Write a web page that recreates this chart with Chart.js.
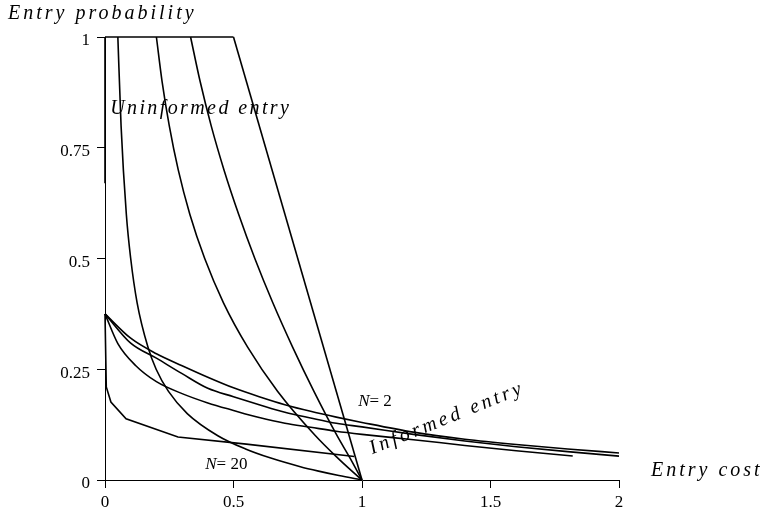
<!DOCTYPE html>
<html>
<head>
<meta charset="utf-8">
<script src="https://cdn.jsdelivr.net/npm/chart.js@4"></script>
<style>
  body { margin: 0; background: #fff; }
  #wrap { width: 767px; height: 515px; }
</style>
</head>
<body>
<div id="wrap"><canvas id="entry-chart" width="767" height="515"></canvas></div>
<script>
// tick labels
const xTicks = [0, 0.5, 1, 1.5, 2];
const yTicks = [0, 0.25, 0.5, 0.75, 1];

// uninformed entry: flat at 1, then falling to 0 at cost 1
const topCost = [0, 0.5];
const topProb = [1, 1];
const uInfCost = [0, 0];
const uInfProb = [1, 0.67];
const u20Cost = [0.05, 0.0625, 0.083, 0.1, 0.125, 0.167, 0.199, 0.247, 0.32, 0.439, 0.547, 0.642, 0.76, 0.831, 0.91, 1];
const u20Prob = [1, 0.8, 0.6, 0.5, 0.4, 0.3, 0.25, 0.2, 0.15, 0.1, 0.07, 0.05, 0.03, 0.02, 0.01, 0];
const u5Cost = [0.2, 0.222, 0.25, 0.285, 0.33, 0.388, 0.461, 0.555, 0.672, 0.819, 0.905, 0.961, 1];
const u5Prob = [1, 0.9, 0.8, 0.7, 0.6, 0.5, 0.4, 0.3, 0.2, 0.1, 0.05, 0.02, 0];
const u3Cost = [0.333, 0.37, 0.413, 0.463, 0.52, 0.583, 0.653, 0.73, 0.813, 0.903, 0.953, 1];
const u3Prob = [1, 0.9, 0.8, 0.7, 0.6, 0.5, 0.4, 0.3, 0.2, 0.1, 0.05, 0];
const u2Cost = [0.5, 1];
const u2Prob = [1, 0];

// informed entry
const i2Cost = [0, 0.1, 0.2, 0.3, 0.4, 0.5, 0.6, 0.7, 0.8, 0.9, 1.0, 1.2, 1.4, 1.6, 1.8, 2.0];
const i2Prob = [0.375, 0.32, 0.285, 0.258, 0.232, 0.208, 0.188, 0.17, 0.155, 0.142, 0.13, 0.108, 0.092, 0.08, 0.07, 0.061];
const i3Cost = [0, 0.1, 0.2, 0.3, 0.4, 0.5, 0.6, 0.7, 0.8, 0.9, 1.0, 1.2, 1.4, 1.6, 1.8, 2.0];
const i3Prob = [0.375, 0.309, 0.275, 0.24, 0.207, 0.188, 0.17, 0.153, 0.14, 0.128, 0.12, 0.103, 0.088, 0.075, 0.064, 0.054];
const i5Cost = [0, 0.05, 0.12, 0.2, 0.3, 0.4, 0.5, 0.6, 0.7, 0.8, 0.9, 1.0, 1.2, 1.4, 1.6, 1.82];
const i5Prob = [0.375, 0.308, 0.258, 0.222, 0.195, 0.174, 0.157, 0.141, 0.128, 0.119, 0.11, 0.103, 0.091, 0.078, 0.066, 0.054];
const i20Cost = [0, 0.005, 0.023, 0.082, 0.284, 0.55, 0.97];
const i20Prob = [0.375, 0.21, 0.176, 0.138, 0.097, 0.081, 0.053];

const pts = (xs, ys) => xs.map((x, i) => ({ x: x, y: ys[i] }));

function curve(xs, ys, smooth) {
    return {
        type: 'line',
        data: pts(xs, ys),
        borderColor: '#000',
        borderWidth: 1.6,
        pointRadius: 0,
        fill: false,
        clip: 4,
        cubicInterpolationMode: smooth ? 'monotone' : 'default',
        tension: 0
    };
}

const serif = '"Liberation Serif", "DejaVu Serif", serif';

// text labels drawn on the canvas
const labelPlugin = {
    id: 'labels',
    afterDraw(chart) {
        const ctx = chart.ctx;
        const xs = chart.scales.x, ys = chart.scales.y;
        ctx.save();
        ctx.fillStyle = '#000';
        ctx.textBaseline = 'alphabetic';
        ctx.textAlign = 'left';
        ctx.font = 'italic 20px ' + serif;
        ctx.letterSpacing = '3px';
        ctx.fillText('Entry probability', 8, 19);
        ctx.fillText('Entry cost', 651, 476);
        ctx.letterSpacing = '2.4px';
        ctx.fillText('Uninformed entry', xs.getPixelForValue(0.02), ys.getPixelForValue(0.83) + 2);

        ctx.save();
        ctx.letterSpacing = '3.3px';
        ctx.translate(xs.getPixelForValue(1.04), ys.getPixelForValue(0.058));
        ctx.rotate(-22 * Math.PI / 180);
        ctx.fillText('Informed entry', 0, 0);
        ctx.restore();

        ctx.letterSpacing = '0px';
        const nLabel = (txt, cx, cy) => {
            const px = xs.getPixelForValue(cx), py = ys.getPixelForValue(cy);
            ctx.font = 'italic 17px ' + serif;
            ctx.fillText('N', px, py);
            const w = ctx.measureText('N').width;
            ctx.font = '17px ' + serif;
            ctx.fillText(txt, px + w, py);
        };
        nLabel('= 2', 0.985, 0.168);
        nLabel('= 20', 0.39, 0.025);
        ctx.restore();
    }
};

new Chart(
    document.getElementById('entry-chart'),
    {
        data: {
            datasets: [
                curve(topCost, topProb, false),
                curve(uInfCost, uInfProb, false),
                curve(u20Cost, u20Prob, true),
                curve(u5Cost, u5Prob, true),
                curve(u3Cost, u3Prob, true),
                curve(u2Cost, u2Prob, false),
                curve(i2Cost, i2Prob, true),
                curve(i3Cost, i3Prob, true),
                curve(i5Cost, i5Prob, true),
                curve(i20Cost, i20Prob, false)
            ]
        },
        options: {
            responsive: false,
            animation: false,
            layout: { padding: { top: 37, right: 148, left: 0, bottom: 0 } },
            plugins: { legend: { display: false }, tooltip: { enabled: false } },
            scales: {
                x: {
                    type: 'linear',
                    min: 0,
                    max: 2,
                    afterBuildTicks: (axis) => { axis.ticks = xTicks.map(v => ({ value: v })); },
                    afterFit: (axis) => { axis.height = 35; },
                    grid: { drawOnChartArea: false, color: '#000', tickLength: 8 },
                    border: { color: '#000', width: 1 },
                    ticks: {
                        color: '#000', padding: 4, maxRotation: 0,
                        font: { family: serif, size: 17 },
                        callback: (v) => String(v)
                    }
                },
                y: {
                    type: 'linear',
                    min: 0,
                    max: 1,
                    afterBuildTicks: (axis) => { axis.ticks = yTicks.map(v => ({ value: v })); },
                    afterFit: (axis) => { axis.width = 105; },
                    grid: { drawOnChartArea: false, color: '#000', tickLength: 8 },
                    border: { color: '#000', width: 1 },
                    ticks: {
                        color: '#000', padding: 7, labelOffset: 4,
                        font: { family: serif, size: 17 },
                        callback: (v) => String(v)
                    }
                }
            }
        },
        plugins: [labelPlugin]
    }
);
</script>
</body>
</html>
